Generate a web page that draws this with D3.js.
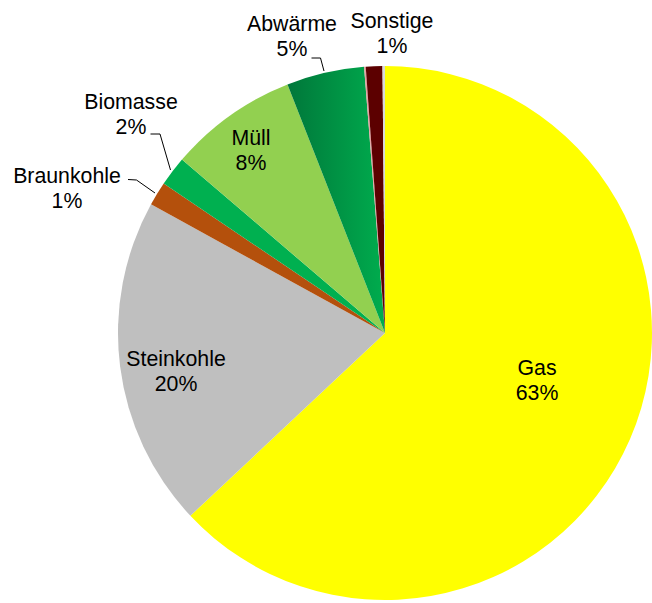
<!DOCTYPE html>
<html>
<head>
<meta charset="utf-8">
<script src="https://cdn.jsdelivr.net/npm/d3@7"></script>
<style>
  html, body { margin: 0; padding: 0; background: #ffffff; }
  svg { display: block; }
  text { font-family: "Liberation Sans", Arial, sans-serif; fill: #000; }
</style>
</head>
<body>
<svg id="chart" width="652" height="603"></svg>
<script>
// Energy sources, clockwise from 12 o'clock
const categories = ["Gas", "Steinkohle", "Braunkohle", "Biomasse", "Müll", "Abwärme", "", "Sonstige", ""];
const shares     = [63.0, 20.0, 1.45, 1.8, 7.8, 4.7, 0.1, 1.0, 0.15];
const colors     = ["#ffff00", "#bfbfbf", "#b4500c", "#00b050", "#92d050", "url(#abwaermeGrad)", "#e6a0a0", "#5c0000", "#d9d9d9"];

// Label layout: center x, first-line baseline, optional leader polyline
const labelLayout = {
  "Gas":        { x: 537, y: 375 },
  "Steinkohle": { x: 176, y: 366 },
  "Müll":       { x: 251, y: 145 },
  "Abwärme":    { x: 292, y: 31, leader: [[311.5, 58], [320.5, 58], [324, 71]] },
  "Sonstige":   { x: 392, y: 28 },
  "Biomasse":   { x: 131, y: 109, leader: [[150.5, 134], [160, 134], [170.5, 170]] },
  "Braunkohle": { x: 67,  y: 183, leader: [[128, 179.5], [136.5, 180], [155, 193]] }
};

const cx = 385, cy = 333, radius = 267;
const fontSize = 21.3, lineGap = 25;

const svg = d3.select("#chart");
const defs = svg.append("defs");
const grad = defs.append("linearGradient")
  .attr("id", "abwaermeGrad")
  .attr("gradientUnits", "userSpaceOnUse");
grad.append("stop").attr("offset", "0%").attr("stop-color", "#00773a");
grad.append("stop").attr("offset", "100%").attr("stop-color", "#00ad4e");

const data = categories.map((c, i) => ({ name: c, value: shares[i], color: colors[i] }));
const total = d3.sum(shares);

const pie = d3.pie().value(d => d.value).sort(null).startAngle(0).endAngle(2 * Math.PI);
const arc = d3.arc().innerRadius(0).outerRadius(radius);
const arcs = pie(data);

const g = svg.append("g").attr("transform", `translate(${cx},${cy})`);

g.selectAll("path.slice")
  .data(arcs)
  .join("path")
  .attr("class", "slice")
  .attr("d", arc)
  .attr("fill", d => d.data.color);

// Stretch the Abwärme gradient across its own slice (group-local coordinates)
const abw = arcs.find(a => a.data.name === "Abwärme");
const xs = [0, Math.sin(abw.startAngle) * radius, Math.sin(abw.endAngle) * radius];
grad.attr("x1", d3.min(xs)).attr("x2", d3.max(xs)).attr("y1", 0).attr("y2", 0);

// Leader lines
Object.values(labelLayout).filter(l => l.leader).forEach(l => {
  svg.append("path")
    .attr("d", d3.line()(l.leader))
    .attr("fill", "none")
    .attr("stroke", "#000")
    .attr("stroke-width", 1);
});

// Category name and rounded percentage
arcs.filter(a => labelLayout[a.data.name]).forEach(a => {
  const l = labelLayout[a.data.name];
  const t = svg.append("text")
    .attr("text-anchor", "middle")
    .attr("font-size", fontSize);
  t.append("tspan").attr("x", l.x).attr("y", l.y).text(a.data.name);
  t.append("tspan").attr("x", l.x).attr("y", l.y + lineGap)
    .text(Math.round(a.data.value / total * 100) + "%");
});
</script>
</body>
</html>
